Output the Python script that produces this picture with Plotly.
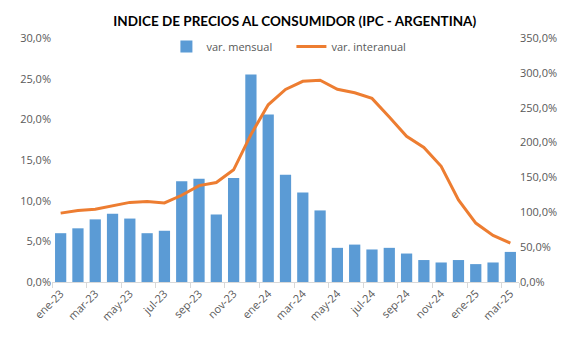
import plotly.graph_objects as go

months = ["ene-23","feb-23","mar-23","abr-23","may-23","jun-23","jul-23","ago-23","sep-23","oct-23","nov-23","dic-23",
          "ene-24","feb-24","mar-24","abr-24","may-24","jun-24","jul-24","ago-24","sep-24","oct-24","nov-24","dic-24",
          "ene-25","feb-25","mar-25"]
mensual = [6.0, 6.6, 7.7, 8.4, 7.8, 6.0, 6.3, 12.4, 12.7, 8.3, 12.8, 25.5,
           20.6, 13.2, 11.0, 8.8, 4.2, 4.6, 4.0, 4.2, 3.5, 2.7, 2.4, 2.7,
           2.2, 2.4, 3.7]
interanual = [98.8, 102.5, 104.3, 108.8, 114.2, 115.6, 113.4, 124.4, 138.3, 142.7, 160.9, 211.4,
              254.2, 276.2, 287.9, 289.4, 276.4, 271.5, 263.4, 236.7, 209.0, 193.0, 166.0, 117.8,
              84.5, 66.9, 55.9]
tick_labels = months[::2]

grey = "#595959"
fig = go.Figure()
fig.add_trace(go.Bar(x=months, y=[v/100 for v in mensual], name="var. mensual",
                     marker=dict(color="#5B9BD5", line=dict(width=0)), yaxis="y"))
fig.add_trace(go.Scatter(x=months, y=[v/100 for v in interanual], name="var. interanual",
                         mode="lines", line=dict(color="#ED7D31", width=3), yaxis="y2"))

fig.update_layout(
    width=586, height=339,
    margin=dict(l=52, r=67, t=38, b=57),
    paper_bgcolor="white", plot_bgcolor="white",
    separators=",.",
    bargap=0.35,
    font=dict(family="Open Sans, Lato, sans-serif", size=11, color=grey),
    title=dict(text="<b>INDICE DE PRECIOS AL CONSUMIDOR (IPC - ARGENTINA)</b>",
               x=0.503, xanchor="center", y=0.936, yanchor="middle",
               font=dict(size=13.5, color="black", family="Lato, Open Sans, sans-serif")),
    legend=dict(orientation="h", x=0.245, y=1.025, xanchor="left", yanchor="top",
                font=dict(size=11, color=grey), bgcolor="rgba(0,0,0,0)",
                entrywidth=80, entrywidthmode="pixels",
                traceorder="normal"),
    showlegend=True,
    xaxis=dict(type="category", categoryorder="array", categoryarray=months,
               tickmode="array", tickvals=tick_labels, ticktext=tick_labels,
               tickson="boundaries", ticks="outside", ticklen=5, tickcolor="#D9D9D9",
               tickangle=-45, showline=True, linecolor="#D9D9D9", linewidth=1,
               showgrid=False, range=[-0.5, 26.5], tickfont=dict(size=11, color=grey)),
    yaxis=dict(range=[0, 0.30], dtick=0.05, tickformat=".1%", showgrid=False,
               zeroline=False, showline=False, ticks="", tickfont=dict(size=11, color=grey)),
    yaxis2=dict(range=[0, 3.5], dtick=0.5, tickformat=".1%", overlaying="y", side="right",
                showgrid=False, zeroline=False, showline=False, ticks="",
                tickfont=dict(size=11, color=grey)),
)
fig.write_html("out.html")
